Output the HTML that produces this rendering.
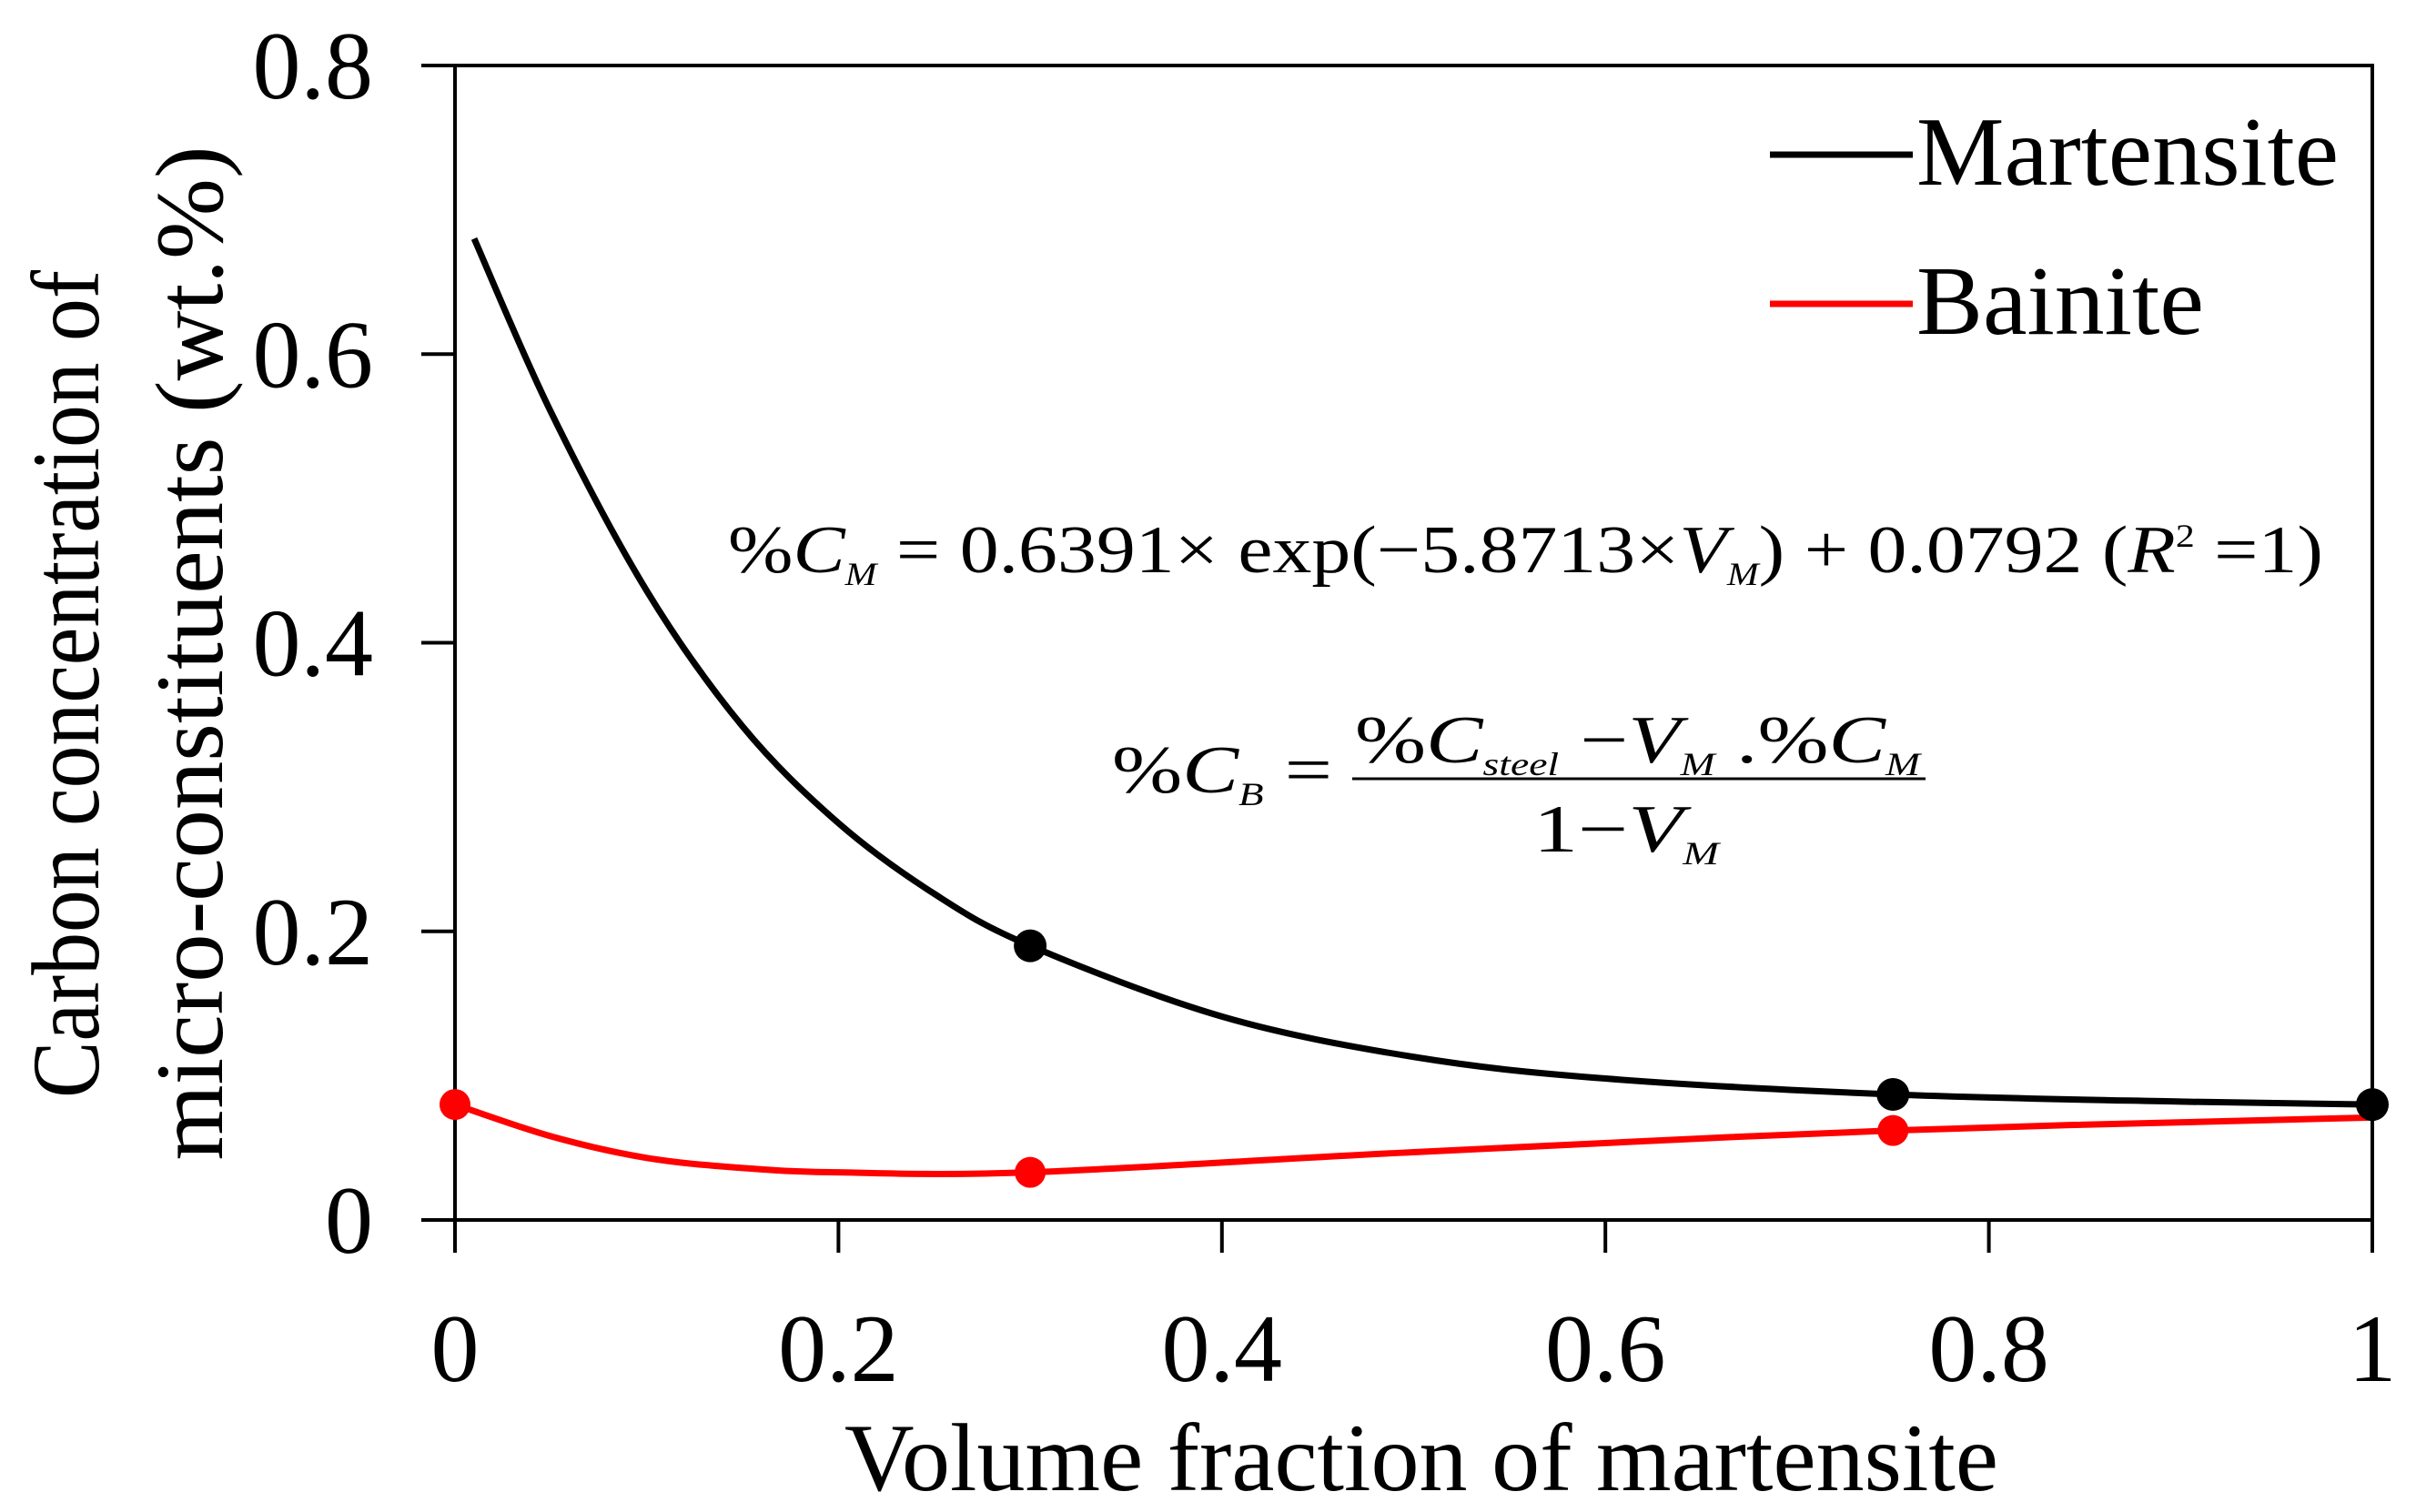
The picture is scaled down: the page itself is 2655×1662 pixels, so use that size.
<!DOCTYPE html>
<html><head><meta charset="utf-8"><style>
html,body{margin:0;padding:0;background:#fff;}
svg{display:block;font-family:"Liberation Serif",serif;}
</style></head><body>
<svg id="chart" width="2655" height="1662" viewBox="0 0 2655 1662" xmlns="http://www.w3.org/2000/svg">
<g id="axes"></g>
<g id="series"></g>
<g>
  <line x1="1945" y1="170" x2="2102" y2="170" stroke="#000" stroke-width="7"/>
  <text x="2106" y="203" font-size="108" textLength="464" lengthAdjust="spacingAndGlyphs">Martensite</text>
  <line x1="1945" y1="334" x2="2102" y2="334" stroke="#f00" stroke-width="7"/>
  <text x="2106" y="367" font-size="108" textLength="316" lengthAdjust="spacingAndGlyphs">Bainite</text>
</g>
<g font-size="74">
  <text x="800" y="629" textLength="1753" lengthAdjust="spacingAndGlyphs">%<tspan font-style="italic">C</tspan><tspan font-style="italic" font-size="36" dy="14">M</tspan><tspan dy="-14"> = 0.6391× exp(−5.8713×</tspan><tspan font-style="italic">V</tspan><tspan font-style="italic" font-size="36" dy="14">M</tspan><tspan dy="-14">) + 0.0792  (</tspan><tspan font-style="italic">R</tspan><tspan font-size="36" dy="-28">2</tspan><tspan dy="28"> =1)</tspan></text>
</g>
<g font-size="74">
  <text x="1222" y="871" textLength="242" lengthAdjust="spacingAndGlyphs">%<tspan font-style="italic">C</tspan><tspan font-style="italic" font-size="36" dy="14">B</tspan><tspan dy="-14"> =</tspan></text>
  <text x="1489" y="838" textLength="621" lengthAdjust="spacingAndGlyphs">%<tspan font-style="italic">C</tspan><tspan font-style="italic" font-size="36" dy="14">steel</tspan><tspan dy="-14"> −</tspan><tspan font-style="italic">V</tspan><tspan font-style="italic" font-size="36" dy="14">M</tspan><tspan dy="-14"> .%</tspan><tspan font-style="italic">C</tspan><tspan font-style="italic" font-size="36" dy="14">M</tspan></text>
  <line x1="1486" y1="856" x2="2116" y2="856" stroke="#000" stroke-width="3"/>
  <text x="1685" y="936" textLength="204" lengthAdjust="spacingAndGlyphs">1−<tspan font-style="italic">V</tspan><tspan font-style="italic" font-size="36" dy="14">M</tspan></text>
</g>
<text x="1562" y="1638" font-size="106" text-anchor="middle" textLength="1268" lengthAdjust="spacingAndGlyphs">Volume fraction of martensite</text>
<g font-size="106" text-anchor="middle">
  <text transform="translate(108,752) rotate(-90)" textLength="910" lengthAdjust="spacingAndGlyphs">Carbon concentration of</text>
  <text transform="translate(244,718) rotate(-90)" textLength="1115" lengthAdjust="spacingAndGlyphs">micro-constituents (wt.%)</text>
</g>
</svg>
<script>
const xTicks = [0, 0.2, 0.4, 0.6, 0.8, 1];
const xTickLabels = ["0", "0.2", "0.4", "0.6", "0.8", "1"];
const yTicks = [0, 0.2, 0.4, 0.6, 0.8];
const yTickLabels = ["0", "0.2", "0.4", "0.6", "0.8"];
const martCurveX = [0.01, 0.05, 0.1, 0.15, 0.2, 0.25, 0.3, 0.4, 0.5, 0.6, 0.75, 0.9, 1];
const martCurveY = [0.68, 0.56, 0.436, 0.342, 0.275, 0.226, 0.19, 0.141, 0.113, 0.098, 0.087, 0.082, 0.080];
const martPointsX = [0.3, 0.75, 1];
const martPointsY = [0.19, 0.087, 0.080];
const bainCurveX = [0, 0.05, 0.1, 0.15, 0.2, 0.3, 0.5, 0.75, 1];
const bainCurveY = [0.08, 0.058, 0.043, 0.036, 0.033, 0.033, 0.047, 0.062, 0.071];
const bainPointsX = [0, 0.3, 0.75];
const bainPointsY = [0.08, 0.033, 0.062];

const X0 = 500, X1 = 2607, Y0 = 1341, Y1 = 72;
function sx(v){ return X0 + v * (X1 - X0); }
function sy(v){ return Y0 - v / 0.8 * (Y0 - Y1); }
const NS = "http://www.w3.org/2000/svg";
function mk(tag, attrs, parent){
  const e = document.createElementNS(NS, tag);
  for (const k in attrs) e.setAttribute(k, attrs[k]);
  parent.appendChild(e); return e;
}
const axes = document.getElementById('axes');
const series = document.getElementById('series');
const frame = mk('path', {d:`M${X0},${Y1} H${X1} V${Y0} H${X0} Z`, fill:'none', stroke:'#000', 'stroke-width':4}, axes);


xTicks.forEach((t, i) => {
  const l = mk('line', {x1:sx(t), y1:Y0, x2:sx(t), y2:Y0+36, stroke:'#000', 'stroke-width':4}, axes);
  
  
  const tx = mk('text', {x:sx(t), y:1518, 'font-size':106, 'text-anchor':'middle'}, axes);
  tx.textContent = xTickLabels[i];
  
  
});
yTicks.forEach((t, i) => {
  const l = mk('line', {x1:X0-37, y1:sy(t), x2:X0, y2:sy(t), stroke:'#000', 'stroke-width':4}, axes);
  
  
  const tx = mk('text', {x:410, y:sy(t)+36, 'font-size':106, 'text-anchor':'end'}, axes);
  tx.textContent = yTickLabels[i];
  
  
});
function smooth(xs, ys){
  const p = xs.map((x, i) => [sx(x), sy(ys[i])]);
  let d = `M${p[0][0]},${p[0][1]}`;
  for (let i = 0; i < p.length - 1; i++){
    const p0 = p[i-1] || p[i], p1 = p[i], p2 = p[i+1], p3 = p[i+2] || p2;
    const c1 = [p1[0] + (p2[0]-p0[0])/6, p1[1] + (p2[1]-p0[1])/6];
    const c2 = [p2[0] - (p3[0]-p1[0])/6, p2[1] - (p3[1]-p1[1])/6];
    d += ` C${c1[0]},${c1[1]} ${c2[0]},${c2[1]} ${p2[0]},${p2[1]}`;
  }
  return d;
}
const bl = mk('path', {d:smooth(bainCurveX, bainCurveY), fill:'none', stroke:'#f00', 'stroke-width':7}, series);


bainPointsX.forEach((x, i) => {
  const c = mk('circle', {cx:sx(x), cy:sy(bainPointsY[i]), r:17, fill:'#f00'}, series);
  
  
});
const ml = mk('path', {d:smooth(martCurveX, martCurveY), fill:'none', stroke:'#000', 'stroke-width':7}, series);


martPointsX.forEach((x, i) => {
  const c = mk('circle', {cx:sx(x), cy:sy(martPointsY[i]), r:18, fill:'#000'}, series);
  
  
});
</script>
</body></html>
